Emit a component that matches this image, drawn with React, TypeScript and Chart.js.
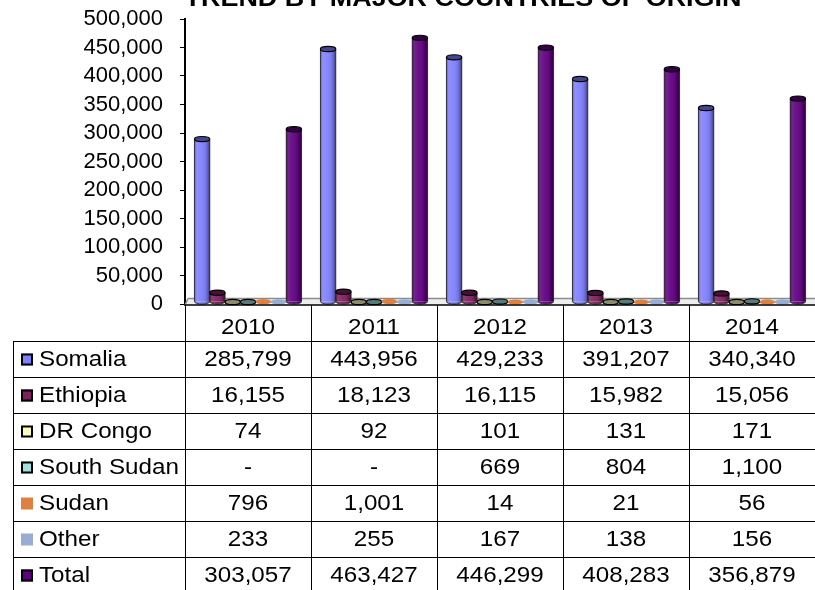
import React, { useEffect, useRef } from 'react';
import { Chart, registerables } from 'chart.js';

Chart.register(...registerables);

const TITLE = 'TREND BY MAJOR COUNTRIES OF ORIGIN';
const years = ['2010', '2011', '2012', '2013', '2014'];
const somalia = [285799, 443956, 429233, 391207, 340340];
const ethiopia = [16155, 18123, 16115, 15982, 15056];
const drCongo = [74, 92, 101, 131, 171];
const southSudan = [0, 0, 669, 804, 1100];
const sudan = [796, 1001, 14, 21, 56];
const other = [233, 255, 167, 138, 156];
const total = [303057, 463427, 446299, 408283, 356879];

const seriesNames = ['Somalia', 'Ethiopia', 'DR Congo', 'South Sudan', 'Sudan', 'Other', 'Total'];
const seriesValues = [somalia, ethiopia, drCongo, southSudan, sudan, other, total];
const seriesColors = ['#8080ff', '#80205f', '#ffffc0', '#a0e0e0', '#e08040', '#98acd4', '#600080'];
const seriesOutlined = [true, true, true, true, false, false, true];

const Y_MIN = 0;
const Y_MAX = 500000;
const Y_STEP = 50000;

const FONT = '"Liberation Sans", Arial, Helvetica, sans-serif';
const STRETCH = 1.1;

// accounting style: zero is shown as a dash
const fmt = (v: number | null) => (v == null || v === 0 ? '-' : v.toLocaleString('en-US'));

function shade(hex: string, f: number, a = 1) {
  const n = parseInt(hex.slice(1), 16);
  const r = Math.round(((n >> 16) & 255) * f);
  const g = Math.round(((n >> 8) & 255) * f);
  const b = Math.round((n & 255) * f);
  return `rgba(${r},${g},${b},${a})`;
}

function sText(ctx: CanvasRenderingContext2D, text: string, x: number, y: number, align: CanvasTextAlign) {
  ctx.save();
  ctx.translate(x, y);
  ctx.scale(STRETCH, 1);
  ctx.textAlign = align;
  ctx.fillText(text, 0, 0);
  ctx.restore();
}

const DEPTH = 2;

const cylinderPlugin = {
  id: 'cylinders',
  beforeDatasetsDraw(chart: any) {
    const { ctx, chartArea: ca } = chart;
    ctx.save();
    ctx.fillStyle = '#eeeeee';
    ctx.beginPath();
    ctx.moveTo(ca.left, ca.bottom + 1);
    ctx.lineTo(ca.left + 3, ca.bottom - 5.5);
    ctx.lineTo(ca.right, ca.bottom - 5.5);
    ctx.lineTo(ca.right, ca.bottom + 1);
    ctx.closePath();
    ctx.fill();
    ctx.strokeStyle = '#8c8c8c';
    ctx.lineWidth = 1.5;
    ctx.beginPath();
    ctx.moveTo(ca.left + 3, ca.bottom - 5.5);
    ctx.lineTo(ca.right, ca.bottom - 5.5);
    ctx.moveTo(ca.left, ca.bottom + 1);
    ctx.lineTo(ca.left + 3, ca.bottom - 5.5);
    ctx.stroke();
    ctx.restore();
    ctx.save();
    ctx.translate(0, -DEPTH);
  },
  afterDatasetsDraw(chart: any) {
    const ctx: CanvasRenderingContext2D = chart.ctx;
    chart.data.datasets.forEach((ds: any, i: number) => {
      const meta = chart.getDatasetMeta(i);
      const col = seriesColors[i];
      const outlined = seriesOutlined[i];
      meta.data.forEach((el: any, j: number) => {
        if (ds.data[j] == null) return;
        const { x, y, base, width } = el.getProps(['x', 'y', 'base', 'width'], true);
        const l = x - width / 2;
        const r = x + width / 2;
        const ry = 2.6;
        const g = ctx.createLinearGradient(l, 0, r, 0);
        g.addColorStop(0, 'rgba(0,0,0,0.35)');
        g.addColorStop(0.18, 'rgba(255,255,255,0.12)');
        g.addColorStop(0.45, 'rgba(255,255,255,0.05)');
        g.addColorStop(0.8, 'rgba(0,0,0,0.15)');
        g.addColorStop(1, 'rgba(0,0,0,0.5)');
        ctx.beginPath();
        ctx.ellipse(x, base, width / 2, ry, 0, 0, Math.PI);
        ctx.closePath();
        ctx.fillStyle = col;
        ctx.fill();
        ctx.fillStyle = g;
        ctx.fill();
        if (base - y > 0.5) {
          ctx.fillStyle = g;
          ctx.fillRect(l, y, width, base - y);
        }
        if (outlined) {
          ctx.strokeStyle = 'rgba(40,40,40,0.9)';
          ctx.lineWidth = 1;
          ctx.beginPath();
          ctx.moveTo(l, y);
          ctx.lineTo(l, base);
          ctx.ellipse(x, base, width / 2, ry, 0, Math.PI, 0, true);
          ctx.lineTo(r, y);
          ctx.stroke();
        }
        ctx.beginPath();
        ctx.ellipse(x, y, width / 2, ry, 0, 0, Math.PI * 2);
        ctx.fillStyle = outlined ? shade(col, 0.55) : col;
        ctx.fill();
        if (outlined) {
          ctx.strokeStyle = '#000';
          ctx.lineWidth = 1.2;
          ctx.stroke();
        }
      });
    });
    ctx.restore();
  },
  afterDraw(chart: any) {
    const { ctx, chartArea: ca } = chart;
    const n = years.length;
    const colW = (ca.right - ca.left) / n;
    const headTop = ca.bottom + 1;
    const rowTop = 341;
    const rowH = 36;
    const tableLeft = 13;
    ctx.save();
    ctx.strokeStyle = '#000';
    ctx.lineWidth = 1.5;
    ctx.beginPath();
    ctx.moveTo(ca.left - 1, ca.bottom + 1);
    ctx.lineTo(ca.right, ca.bottom + 1);
    ctx.stroke();

    ctx.lineWidth = 1;
    ctx.strokeStyle = '#000';
    ctx.beginPath();
    for (let r = 0; r <= seriesNames.length; r++) {
      const yy = Math.round(rowTop + r * rowH) + 0.5;
      ctx.moveTo(tableLeft, yy);
      ctx.lineTo(ca.right, yy);
    }
    ctx.moveTo(tableLeft + 0.5, rowTop);
    ctx.lineTo(tableLeft + 0.5, 600);
    for (let c = 0; c < n; c++) {
      const xx = Math.round(ca.left + c * colW) + 0.5;
      ctx.moveTo(xx, headTop);
      ctx.lineTo(xx, 600);
    }
    ctx.stroke();

    ctx.fillStyle = '#000';
    ctx.font = `22px ${FONT}`;
    ctx.textBaseline = 'middle';
    const xs = chart.scales.x;
    years.forEach((yr, c) => {
      sText(ctx, yr, xs.getPixelForValue(c), 328, 'center');
    });
    seriesNames.forEach((name, r) => {
      const cy = rowTop + r * rowH + rowH / 2 + 0.5;
      ctx.fillStyle = seriesColors[r];
      ctx.fillRect(21, cy - 6, 12, 12);
      if (seriesOutlined[r]) {
        ctx.strokeStyle = '#000';
        ctx.lineWidth = 2;
        ctx.strokeRect(22, cy - 5, 10, 10);
      }
      ctx.fillStyle = '#000';
      sText(ctx, name, 39, cy, 'left');
      seriesValues[r].forEach((v, c) => {
        sText(ctx, fmt(v), xs.getPixelForValue(c), cy, 'center');
      });
    });

    ctx.font = `bold 24.5px ${FONT}`;
    ctx.textBaseline = 'alphabetic';
    sText(ctx, TITLE, 463, 6, 'center');
    ctx.restore();
  },
};

export default function App() {
  const canvasRef = useRef<HTMLCanvasElement | null>(null);

  useEffect(() => {
    if (!canvasRef.current) return;
    const chart = new Chart(canvasRef.current, {
      type: 'bar',
      data: {
        labels: years,
        datasets: seriesNames.map((name, i) => ({
          label: name,
          data: seriesValues[i],
          backgroundColor: seriesColors[i],
          borderWidth: 0,
          categoryPercentage: 0.85,
          barPercentage: 1.0,
        })),
      },
      options: {
        animation: false,
        responsive: false,
        devicePixelRatio: 1,
        layout: { padding: { left: 0, right: 0, top: 19, bottom: 286 } },
        plugins: {
          legend: { display: false },
          title: { display: false },
          tooltip: { enabled: false },
        },
        scales: {
          x: { display: false },
          y: {
            min: Y_MIN,
            max: Y_MAX,
            afterFit: (scale: any) => {
              scale.width = 185;
              scale.paddingTop = 0;
              scale.paddingBottom = 0;
            },
            ticks: {
              stepSize: Y_STEP,
              autoSkip: false,
              padding: 17,
              color: '#000',
              font: { family: FONT, size: 22 },
              callback: (v: any) => Number(v).toLocaleString('en-US'),
            },
            grid: {
              drawOnChartArea: false,
              drawTicks: true,
              tickLength: 5,
              color: '#000',
              lineWidth: 1,
            },
            border: { display: true, color: '#000', width: 2 },
          },
        },
      },
      plugins: [cylinderPlugin],
    });
    return () => chart.destroy();
  }, []);

  return (
    <div style={{ position: 'absolute', left: 0, top: 0, width: 815, height: 590, background: '#fff' }}>
      <canvas ref={canvasRef} width={815} height={590} style={{ display: 'block' }} />
    </div>
  );
}
